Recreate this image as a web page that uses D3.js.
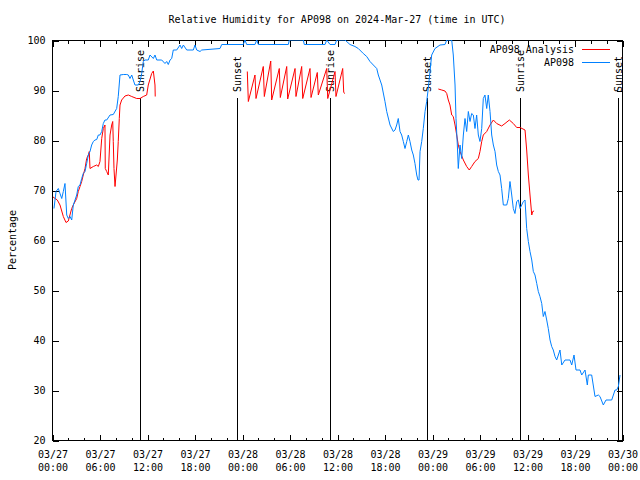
<!DOCTYPE html>
<html><head><meta charset="utf-8">
<script src="https://cdn.jsdelivr.net/npm/d3@7"></script>
<style>
html,body{margin:0;padding:0;background:#fff;}
text{font-family:"DejaVu Sans Mono",monospace;font-size:10px;fill:#000;}
</style></head>
<body><svg id="c" width="640" height="480"></svg>
<script>
// ---- data (hours since 2024-03-27 00:00 UTC) ----
const blueHours = [0.25,0.51,0.80,1.01,1.23,1.43,1.64,1.86,2.06,2.27,2.49,2.69,2.91,3.12,3.32,3.54,3.75,3.95,4.17,4.38,4.59,4.80,5.01,5.22,5.43,5.65,5.85,6.06,6.28,6.48,6.69,6.91,7.33,7.74,8.17,8.37,8.59,9.01,9.44,9.64,9.85,10.07,10.27,10.48,10.90,11.12,11.33,11.53,11.75,12.16,12.38,12.80,13.01,13.23,13.86,14.27,14.49,14.69,14.91,15.12,15.32,15.75,16.17,16.38,16.59,17.02,17.85,18.06,18.28,18.70,18.91,21.22,21.44,24.16,24.38,24.59,25.64,25.86,26.06,29.85,29.98,31.74,31.87,34.49,34.70,35.12,35.75,35.96,37.01,37.64,38.27,38.69,39.32,39.75,40.17,40.59,41.02,41.22,41.65,42.06,42.28,42.70,43.11,43.33,43.54,43.74,43.96,44.17,44.38,44.59,44.81,45.01,45.22,45.44,45.64,45.85,46.07,46.23,46.36,46.49,46.70,46.90,47.12,47.33,47.53,47.96,48.38,49.01,49.64,49.86,50.49,50.69,50.91,51.03,51.20,51.32,51.54,51.75,51.96,52.17,52.38,52.59,52.80,53.01,53.22,53.43,53.64,53.85,54.06,54.28,54.48,54.69,54.91,55.11,55.33,55.54,55.75,55.96,56.17,56.38,56.59,56.80,57.01,57.44,57.64,57.85,58.07,58.27,58.48,58.70,58.91,59.12,59.33,59.54,59.75,59.96,60.17,60.38,60.60,60.80,61.01,61.23,61.43,61.64,61.86,62.06,62.27,62.49,62.69,62.91,63.12,63.32,63.54,63.75,63.96,64.17,64.39,64.80,65.43,65.65,65.94,66.19,66.70,66.91,67.33,67.62,67.75,68.17,68.59,69.01,69.22,69.64,69.98,70.70,71.12,71.33,71.54,71.75];
const blueValues = [66.3,69.7,70.3,69.3,68.3,69.7,71.3,65,64.3,64.7,64,67,68,69,70.7,71,72.3,73.3,73.7,75.3,77,77.7,79,79.7,80,80.1,81,81,81.7,83.3,84,84,85,85.1,86.3,88.7,93,93.1,93.1,93,92.3,93,92,91,91,91.7,93.3,95.7,96,96,97,96.3,97,96,96,95.3,95.7,95.1,96,96.3,98,98,99,98.3,99,98,98,99,98,97.7,98,98.3,99.1,99.1,100,99.1,99.1,100,99.1,99.1,100,100,99.1,99.1,100,99.1,99.1,100,100,99.1,98.7,98.3,97.3,96.7,95.7,95,94.3,93,91,87.7,85.7,83,81.7,82,83,84.3,81.7,81,79.7,78.3,79.7,81,79.7,78,77,75.3,73,72,72,77.7,79.7,82.3,85.7,87.7,90.3,97,98.3,99,99.1,100,100,97,91,84.3,79,74.3,79,76.3,81,84.3,81.7,85.7,83.7,85.3,85,82.3,85,81,79.7,82.3,88.3,89,86.3,89,85.7,81,79,77.7,75,73.7,73,70.3,67,67,68.3,71.7,69,66.3,65.3,67.7,68,66.3,67,67.7,68,62.3,59.7,57.7,56,53.7,53,51.3,49.7,48.7,47.3,44.7,45.7,44,42.3,40,38.7,38,36.7,36,37,38,35,36,36,35,37,34,34,33,34,31,33,33,28.7,29,28.7,27,28,28,30,30,30.7,33];

const redHours = [0.13,0.67,1.01,1.43,1.77,2.06,2.49,2.69,3.12,3.32,3.54,3.75,3.95,4.17,4.38,4.59,4.71,4.80,5.22,5.65,5.85,6.06,6.28,6.48,6.69,6.73,6.91,7.11,7.33,7.54,7.67,7.74,7.83,7.96,8.25,8.37,8.50,8.59,8.80,9.22,9.64,10.07,10.70,11.12,11.53,11.96,12.16,12.59,12.80,13.01,13.04,
  18.0,
  24.67,24.80,25.64,25.77,26.69,26.82,27.63,27.75,28.71,28.84,29.65,29.77,30.70,30.82,31.54,31.67,32.59,32.72,33.51,33.64,34.70,34.83,35.75,35.87,36.72,36.85,37.01,
  42.0,
  48.80,49.23,49.64,49.86,50.06,50.27,50.49,50.69,50.91,51.12,51.32,51.54,51.96,52.38,52.71,53.01,53.43,53.85,54.06,54.28,54.48,54.91,55.33,55.75,56.17,56.80,57.22,57.77,58.27,58.70,59.12,59.75,59.96,60.17,60.38,60.60,60.72,60.89];
const redValues = [68.6,68,67,64.7,63.5,63.8,66.3,67,68.3,69.7,70.7,71.7,73,74.3,76.3,77,77.7,74.3,74.7,75,74.7,75.7,80.3,82.3,83,74.3,73.7,73,81,83,83.7,79.7,74.3,70.7,76,79.7,84.3,87,88,88.8,89,88.7,88.3,88.3,88.7,89,91,93.3,93.8,91,88.7,
  null,
  93.7,87.7,93,88.3,94.7,88.7,95.8,88,94.3,88.5,94.7,88.2,94.3,88.7,94.7,88.3,94.3,88.5,93.5,89,94.3,88.3,93.7,88.7,94.3,89.5,89.3,
  null,
  90.2,90,89.8,89.3,88,87,85,84.7,83,81,79,77.7,76,74.7,74,74.7,75.7,76.3,77.7,79.7,81,81.7,83,84,83.3,82.8,83.3,84,83.3,82.5,82.5,82,78,73,69,65,65.7,65.8];

const sunTimes = ["2024-03-27T11:07Z","2024-03-27T23:24Z","2024-03-28T11:08Z","2024-03-28T23:25Z","2024-03-29T11:05Z","2024-03-29T23:26Z"];
const sunLabels = ["Sunrise","Sunset","Sunrise","Sunset","Sunrise","Sunset"];

const xMajorTicks = ["2024-03-27T00:00Z","2024-03-27T06:00Z","2024-03-27T12:00Z","2024-03-27T18:00Z","2024-03-28T00:00Z","2024-03-28T06:00Z","2024-03-28T12:00Z","2024-03-28T18:00Z","2024-03-29T00:00Z","2024-03-29T06:00Z","2024-03-29T12:00Z","2024-03-29T18:00Z","2024-03-30T00:00Z"];
const yTicks = [20,30,40,50,60,70,80,90,100];
const seriesNames = ["AP098 Analysis","AP098"];
const seriesColors = ["#ff0000","#0080ff"];
const titleText = "Relative Humidity for AP098 on 2024-Mar-27 (time in UTC)";
const yLabel = "Percentage";

// ---- drawing ----
const svg = d3.select("#c");
const L = 52, R = 622, T = 40, B = 440;
const start = Date.UTC(2024,2,27,0,0);
const hToDate = h => new Date(start + h*3600e3);
const x = d3.scaleUtc().domain([new Date("2024-03-27T00:00Z"), new Date("2024-03-30T00:00Z")]).range([L, R]);
const y = d3.scaleLinear().domain([20,100]).range([B, T]);

const majors = xMajorTicks.map(s => new Date(s));
const minors = d3.utcHour.every(2).range(majors[0], majors[majors.length-1]).filter(d => d.getUTCHours() % 6 !== 0);

// frame
svg.append("rect").attr("x", L+0.5).attr("y", T+0.5).attr("width", R-L).attr("height", B-T)
  .attr("fill","none").attr("stroke","#000").attr("stroke-width",1).attr("shape-rendering","crispEdges");

// clip
svg.append("clipPath").attr("id","clip").append("rect").attr("x",L).attr("y",T).attr("width",R-L+1).attr("height",B-T+1);

function styleAxis(g){ g.select(".domain").remove(); g.selectAll("line").attr("stroke","#000").attr("shape-rendering","crispEdges"); }

// bottom major with labels
const fmtD = d3.utcFormat("%m/%d"), fmtT = d3.utcFormat("%H:%M");
const gb = svg.append("g").attr("transform",`translate(0.5,${B+0.5})`)
  .call(d3.axisBottom(x).tickValues(majors).tickSize(-6).tickFormat(""));
styleAxis(gb);
gb.selectAll(".tick text").each(function(d){
  const t = d3.select(this).attr("y",null).attr("dy",null).text(null)
     .style("font-family",'"DejaVu Sans Mono",monospace').style("font-size","10px");
  t.append("tspan").attr("x",0).attr("y",17.5).text(fmtD(d));
  t.append("tspan").attr("x",0).attr("y",30.5).text(fmtT(d));
});
const gbm = svg.append("g").attr("transform",`translate(0.5,${B+0.5})`)
  .call(d3.axisBottom(x).tickValues(minors).tickSize(-3).tickFormat(""));
styleAxis(gbm);
const gt = svg.append("g").attr("transform",`translate(0.5,${T+0.5})`)
  .call(d3.axisTop(x).tickValues(majors).tickSize(-6).tickFormat(""));
styleAxis(gt);
const gtm = svg.append("g").attr("transform",`translate(0.5,${T+0.5})`)
  .call(d3.axisTop(x).tickValues(minors).tickSize(-3).tickFormat(""));
styleAxis(gtm);

// y axes
const gl = svg.append("g").attr("transform",`translate(${L+0.5},0.5)`)
  .call(d3.axisLeft(y).tickValues(yTicks).tickSize(-6).tickPadding(7));
styleAxis(gl);
gl.selectAll("text").style("font-family",'"DejaVu Sans Mono",monospace').style("font-size","10px").attr("fill","#000");
const gr = svg.append("g").attr("transform",`translate(${R+0.5},0.5)`)
  .call(d3.axisRight(y).tickValues(yTicks).tickSize(-6).tickFormat(""));
styleAxis(gr);

// sunrise/sunset
sunTimes.forEach((s,i) => {
  const xs = Math.round(x(new Date(s))) + 0.5;
  svg.append("line").attr("x1",xs).attr("x2",xs).attr("y1",98).attr("y2",B)
    .attr("stroke","#000").attr("stroke-width",1).attr("shape-rendering","crispEdges");
  svg.append("text").attr("transform",`translate(${xs},92) rotate(-90)`)
    .attr("dy","0.35em").attr("text-anchor","start").text(sunLabels[i]);
});

// lines
const line = d3.line().defined(d => d[1] != null).x(d => x(hToDate(d[0]))).y(d => y(d[1]));
const redData = redHours.map((h,i) => [h, redValues[i]]);
const blueData = blueHours.map((h,i) => [h, blueValues[i]]);
const plot = svg.append("g").attr("clip-path","url(#clip)");
plot.append("path").datum(redData).attr("d",line).attr("fill","none").attr("stroke",seriesColors[0]).attr("stroke-width",1);
plot.append("path").datum(blueData).attr("d",line).attr("fill","none").attr("stroke",seriesColors[1]).attr("stroke-width",1);

// legend
seriesNames.forEach((n,i) => {
  const ly = 49 + i*13;
  svg.append("text").attr("x",574).attr("y",ly).attr("dy","0.35em").attr("text-anchor","end").text(n);
  svg.append("line").attr("x1",582).attr("x2",610).attr("y1",ly+0.5).attr("y2",ly+0.5)
    .attr("stroke",seriesColors[i]).attr("stroke-width",1).attr("shape-rendering","crispEdges");
});

// title and y label
svg.append("text").attr("x",(L+R)/2).attr("y",19).attr("dy","0.35em").attr("text-anchor","middle").text(titleText);
svg.append("text").attr("transform",`translate(12,${(T+B)/2}) rotate(-90)`).attr("dy","0.35em").attr("text-anchor","middle").text(yLabel);
</script></body></html>
